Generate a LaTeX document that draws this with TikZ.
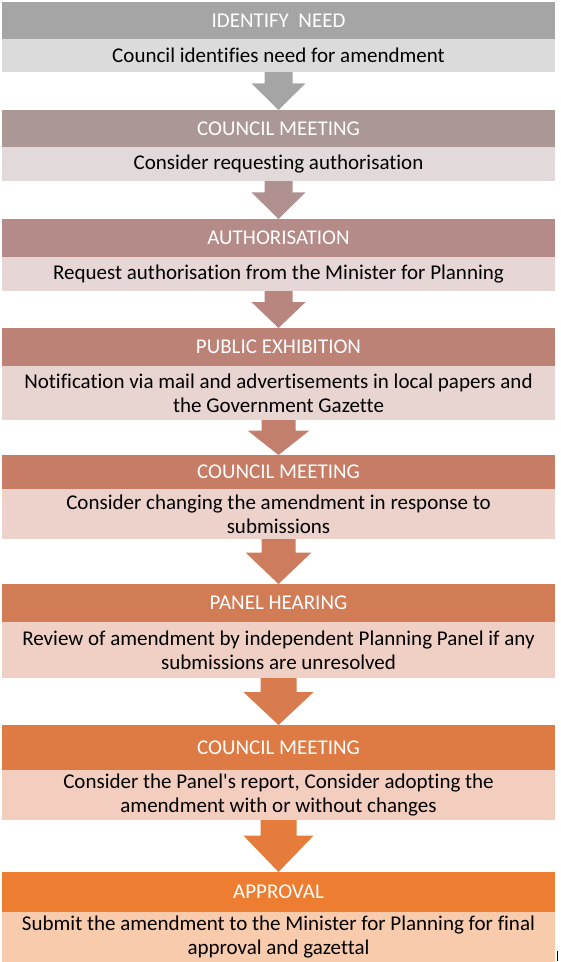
\documentclass[tikz,border=0pt]{standalone}
\usepackage{fontspec}
\setmainfont{Carlito}
\newfontfamily\stagefont{Carlito}[Ligatures={NoCommon}]
\usetikzlibrary{calc,positioning}
\definecolor{headA}{HTML}{A5A5A5}\definecolor{bodyA}{HTML}{DBDBDB}
\definecolor{headB}{HTML}{AC9797}\definecolor{bodyB}{HTML}{E2DADA}
\definecolor{headC}{HTML}{B48B88}\definecolor{bodyC}{HTML}{E6D7D6}
\definecolor{headD}{HTML}{BD8276}\definecolor{bodyD}{HTML}{E8D4D1}
\definecolor{headE}{HTML}{C77C66}\definecolor{bodyE}{HTML}{ECD2CB}
\definecolor{headF}{HTML}{D27C56}\definecolor{bodyF}{HTML}{F0D0C4}
\definecolor{headG}{HTML}{DE7B45}\definecolor{bodyG}{HTML}{F3CEBE}
\definecolor{headH}{HTML}{ED7D31}\definecolor{bodyH}{HTML}{F8CBAD}
\tikzset{
	stagehead/.style={fill=#1, text=white, minimum width=553pt, inner sep=0pt, outer sep=0pt, anchor=north, font=\stagefont\fontsize{21}{24}\selectfont},
	stagebody/.style={fill=#1, text=black, minimum width=553pt, inner sep=0pt, outer sep=0pt, align=center, font=\stagefont\fontsize{21}{24}\selectfont},
}
% block arrow between two stages: (from)(to){colour}{half head}{half shaft}
\def\stagearrow(#1)(#2)#3#4#5{\fill[#3] let \p1=(#1.south), \p2=(#2.north), \n1={0.3*(\y1-\y2)} in
	(\x2-#5,\y1) -- (\x2+#5,\y1) -- (\x2+#5,\y1-\n1) -- (\x2+#4,\y1-\n1) -- (\x2,\y2) -- (\x2-#4,\y1-\n1) -- (\x2-#5,\y1-\n1) -- cycle;}

\begin{document}
\begin{tikzpicture}[x=1pt, y=-1pt]
			%%%%% START %%%%%
			\useasboundingbox (0, 0) rectangle (561, 962);
			
			\node[stagehead=headA, minimum height=37pt] (h1) at (278.5, 2) {IDENTIFY\ \ NEED};
			\node[stagebody=bodyA, minimum height=33pt, below=0pt of h1] (b1) {Council identifies need for amendment};
			
			\node[stagehead=headB, minimum height=37pt] (h2) at (278.5, 110) {COUNCIL MEETING};
			\node[stagebody=bodyB, minimum height=34pt, below=0pt of h2] (b2) {Consider requesting authorisation};
			
			\node[stagehead=headC, minimum height=38pt] (h3) at (278.5, 219) {AUTHORISATION};
			\node[stagebody=bodyC, minimum height=34pt, below=0pt of h3] (b3) {Request authorisation from the Minister for Planning};
			
			\node[stagehead=headD, minimum height=38pt] (h4) at (278.5, 328) {PUBLIC EXHIBITION};
			\node[stagebody=bodyD, minimum height=54pt, below=0pt of h4] (b4) {Notification via mail and advertisements in local papers and\\the Government Gazette};
			
			\node[stagehead=headE, minimum height=34pt] (h5) at (278.5, 455) {COUNCIL MEETING};
			\node[stagebody=bodyE, minimum height=50pt, below=0pt of h5] (b5) {Consider changing the amendment in response to\\submissions};
			
			\node[stagehead=headF, minimum height=38pt] (h6) at (278.5, 584) {PANEL HEARING};
			\node[stagebody=bodyF, minimum height=56pt, below=0pt of h6] (b6) {Review of amendment by independent Planning Panel if any\\submissions are unresolved};
			
			\node[stagehead=headG, minimum height=45pt] (h7) at (278.5, 725) {COUNCIL MEETING};
			\node[stagebody=bodyG, minimum height=50pt, below=0pt of h7] (b7) {Consider the Panel's report, Consider adopting the\\amendment with or without changes};
			
			\node[stagehead=headH, minimum height=40pt] (h8) at (278.5, 872) {APPROVAL};
			\node[stagebody=bodyH, minimum height=50pt, below=0pt of h8] (b8) {Submit the amendment to the Minister for Planning for final\\approval and gazettal};
			
			\stagearrow(b1)(h2){headA}{27pt}{14pt}
			\stagearrow(b2)(h3){headB!50!headC}{27pt}{14pt}
			\stagearrow(b3)(h4){headC!50!headD}{27pt}{14pt}
			\stagearrow(b4)(h5){headD!50!headE}{31pt}{17pt}
			\stagearrow(b5)(h6){headE!50!headF}{33pt}{17pt}
			\stagearrow(b6)(h7){headF!50!headG}{35pt}{18pt}
			\stagearrow(b7)(h8){headG!50!headH}{35pt}{18pt}
			
			\draw[line width=1.2pt] (557.5, 951) -- (557.5, 961);
			%%%%% END %%%%%
\end{tikzpicture}
\end{document}
